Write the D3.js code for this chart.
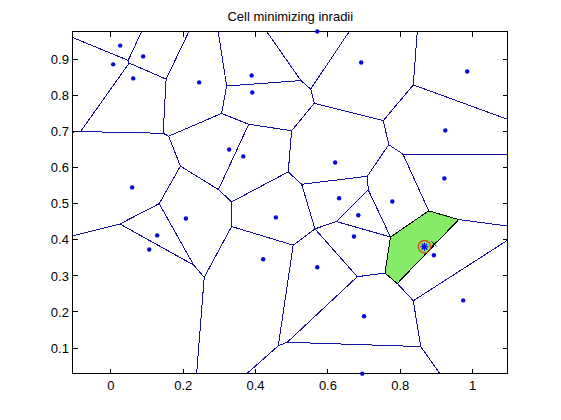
<!DOCTYPE html>
<html>
<head>
<meta charset="utf-8">
<script src="https://cdn.jsdelivr.net/npm/d3@7"></script>
<style>
  body { margin: 0; background: #fff; }
  text { font-family: Arial, "Liberation Sans", sans-serif; font-size: 13px; fill: #000; }
</style>
</head>
<body>
<svg id="chart" width="561" height="420"></svg>
<script>
// axis limits and ticks
const xLim = [-0.105, 1.097];
const yLim = [0.0286, 0.977];
const xTicks = [0, 0.2, 0.4, 0.6, 0.8, 1];
const yTicks = [0.1, 0.2, 0.3, 0.4, 0.5, 0.6, 0.7, 0.8, 0.9];

// generator points
const siteX = [0.0257, 0.0064, 0.0893, 0.0617, 0.244, 0.389, 0.391, 0.327, 0.366, 0.0589,
  0.5705, 0.692, 0.985, 0.9245, 0.620, 0.922, 0.631, 0.778, 0.684, 0.672,
  0.2074, 0.128, 0.106, 0.456, 0.421, 0.5705, 0.8667, 0.893, 0.974, 0.700, 0.695];
const siteY = [0.938, 0.886, 0.908, 0.847, 0.836, 0.855, 0.808, 0.650, 0.631, 0.545,
  0.977, 0.891, 0.866, 0.703, 0.614, 0.570, 0.515, 0.506, 0.468, 0.409,
  0.459, 0.412, 0.373, 0.462, 0.346, 0.324, 0.3807, 0.357, 0.232, 0.188, 0.029];

// voronoi vertices, frame crossings use the axis limits
const vertices = {
  A: [-0.105, 0.960], V1: [0.0478, 0.897], V2: [0.0506, 0.8896], C: [0.0849, 0.977],
  E: [0.1527, 0.845], Etop: [0.2157, 0.977], G: [-0.0838, 0.6998], Gleft: [-0.105, 0.6984],
  F: [0.1446, 0.695], H: [0.1596, 0.687], I: [0.3061, 0.750], K: [0.320, 0.826],
  Ktop: [0.2967, 0.977], L: [0.3811, 0.720], N: [0.4997, 0.702], J: [0.1922, 0.604],
  M: [0.2973, 0.539], P: [0.3338, 0.505], O: [0.4903, 0.588], Q: [0.1336, 0.500],
  W: [0.0249, 0.4436], Wleft: [-0.105, 0.411], R: [0.2287, 0.330], U: [0.258, 0.296],
  Ubot: [0.237, 0.0286], S: [0.3338, 0.4366], T: [0.504, 0.385], X: [0.4627, 0.106],
  Xbot: [0.3753, 0.0286], AI: [0.4876, 0.116], AH: [0.6811, 0.2976], AK: [0.8565, 0.104],
  AKbot: [0.9098, 0.0286], AA: [0.5642, 0.430], Y: [0.5274, 0.5536], Z: [0.7088, 0.576],
  AE: [0.7116, 0.538], AD: [0.623, 0.4505], AC: [0.773, 0.4076], GT: [0.8786, 0.480],
  GR: [0.9616, 0.456], GRright: [1.097, 0.438], GB: [0.7918, 0.2787], GBL: [0.7577, 0.3078],
  AJ: [0.836, 0.231], AJright: [1.097, 0.399], AB: [0.7683, 0.6635], AF: [0.8075, 0.637],
  AFright: [1.097, 0.635], BE: [0.753, 0.730], BF: [0.836, 0.829], BFtop: [0.847, 0.977],
  BFright: [1.097, 0.7336], BC: [0.5622, 0.778], BB: [0.5523, 0.8175], BBtop: [0.659, 0.977],
  BA: [0.5254, 0.841], BAtop: [0.4306, 0.977]
};

const edges = [
  'A-V1', 'C-V1', 'V1-V2', 'V2-E', 'V2-G', 'G-Gleft', 'G-F', 'E-Etop', 'E-F', 'F-H',
  'H-I', 'H-J', 'I-K', 'I-L', 'K-Ktop', 'K-BA', 'L-N', 'L-M', 'J-M', 'J-Q',
  'M-P', 'P-O', 'P-S', 'S-T', 'S-U', 'Q-W', 'Q-R', 'W-Wleft', 'W-R', 'R-U',
  'U-Ubot', 'T-AA', 'T-X', 'X-Xbot', 'X-AI', 'AI-AH', 'AI-AK', 'AA-Y', 'AA-AD', 'AA-AH',
  'Y-O', 'Y-Z', 'Z-AB', 'Z-AE', 'AE-AD', 'AE-AC', 'AD-AC', 'AB-BE', 'AB-AF', 'AF-AFright',
  'AF-GT', 'BE-BC', 'BE-BF', 'BC-BB', 'BC-N', 'BB-BA', 'BB-BBtop', 'BA-BAtop', 'BF-BFtop', 'BF-BFright',
  'N-O', 'GR-GRright', 'GB-AJ', 'GBL-AH', 'AJ-AJright', 'AJ-AK', 'AK-AKbot'
];

// the highlighted cell, its site and inscribed circle
const minCell = ['AC', 'GT', 'GR', 'GB', 'GBL'];
const minSite = [0.8667, 0.3807];
const inradius = 0.0172;
const crossMark = [0.8935, 0.3885];

const width = 561, height = 420;
const margin = { left: 72.9, top: 31.5, right: 561 - 507.7, bottom: 420 - 373.8 };
const plotW = width - margin.left - margin.right;
const plotH = height - margin.top - margin.bottom;

const svg = d3.select('#chart');

const x = d3.scaleLinear().domain(xLim).range([margin.left, margin.left + plotW]);
const y = d3.scaleLinear().domain(yLim).range([margin.top + plotH, margin.top]);

// title
svg.append('text')
  .attr('x', margin.left + plotW / 2)
  .attr('y', 20.5)
  .attr('text-anchor', 'middle')
  .text('Cell minimizing inradii');

svg.append('clipPath').attr('id', 'clip')
  .append('rect')
  .attr('x', margin.left).attr('y', margin.top)
  .attr('width', plotW).attr('height', plotH);

const plot = svg.append('g').attr('clip-path', 'url(#clip)');

// voronoi edges
plot.selectAll('.edge')
  .data(edges)
  .enter()
  .append('line')
  .attr('class', 'edge')
  .attr('x1', d => x(vertices[d.split('-')[0]][0]))
  .attr('y1', d => y(vertices[d.split('-')[0]][1]))
  .attr('x2', d => x(vertices[d.split('-')[1]][0]))
  .attr('y2', d => y(vertices[d.split('-')[1]][1]))
  .attr('stroke', '#10109c')
  .attr('stroke-width', 1)
  .attr('shape-rendering', 'crispEdges');

// cell with the smallest inradius
plot.append('path')
  .attr('d', d3.line().x(d => x(vertices[d][0])).y(d => y(vertices[d][1])).curve(d3.curveLinearClosed)(minCell))
  .attr('fill', '#86ec68')
  .attr('stroke', '#000')
  .attr('stroke-width', 1)
  .attr('shape-rendering', 'crispEdges');

// axes frame with inward ticks on all four sides
const tick = 5;
const axes = svg.append('g').attr('shape-rendering', 'crispEdges');
axes.append('rect')
  .attr('x', margin.left).attr('y', margin.top)
  .attr('width', plotW).attr('height', plotH)
  .attr('fill', 'none').attr('stroke', '#000').attr('stroke-width', 1);

xTicks.forEach(t => {
  axes.append('line').attr('x1', x(t)).attr('x2', x(t))
    .attr('y1', margin.top + plotH).attr('y2', margin.top + plotH - tick).attr('stroke', '#000');
  axes.append('line').attr('x1', x(t)).attr('x2', x(t))
    .attr('y1', margin.top).attr('y2', margin.top + tick).attr('stroke', '#000');
  axes.append('text')
    .attr('x', x(t)).attr('y', margin.top + plotH + 16)
    .attr('text-anchor', 'middle')
    .text(d3.format('~g')(t));
});

yTicks.forEach(t => {
  axes.append('line').attr('y1', y(t)).attr('y2', y(t))
    .attr('x1', margin.left).attr('x2', margin.left + tick).attr('stroke', '#000');
  axes.append('line').attr('y1', y(t)).attr('y2', y(t))
    .attr('x1', margin.left + plotW).attr('x2', margin.left + plotW - tick).attr('stroke', '#000');
  axes.append('text')
    .attr('x', margin.left - 4).attr('y', y(t))
    .attr('dy', '0.36em')
    .attr('text-anchor', 'end')
    .text(t.toFixed(1));
});

// generator points (not clipped, like matlab markers)
svg.selectAll('.site')
  .data(siteX.map((v, i) => [v, siteY[i]]))
  .enter()
  .append('circle')
  .attr('class', 'site')
  .attr('cx', d => x(d[0]))
  .attr('cy', d => y(d[1]))
  .attr('r', 2.2)
  .attr('fill', '#0808d8');

// inscribed circle of the chosen cell
const r = y(0) - y(inradius);
svg.append('circle')
  .attr('cx', x(minSite[0])).attr('cy', y(minSite[1]))
  .attr('r', r)
  .attr('fill', 'none')
  .attr('stroke', '#d8461c')
  .attr('stroke-width', 1.3);

// star marker at the site
const sx = x(minSite[0]), sy = y(minSite[1]), s = 4;
const star = svg.append('g').attr('stroke', '#0000ff').attr('stroke-width', 1.2);
star.append('line').attr('x1', sx - s).attr('x2', sx + s).attr('y1', sy).attr('y2', sy);
star.append('line').attr('x1', sx).attr('x2', sx).attr('y1', sy - s).attr('y2', sy + s);
star.append('line').attr('x1', sx - s * 0.7).attr('x2', sx + s * 0.7).attr('y1', sy - s * 0.7).attr('y2', sy + s * 0.7);
star.append('line').attr('x1', sx - s * 0.7).attr('x2', sx + s * 0.7).attr('y1', sy + s * 0.7).attr('y2', sy - s * 0.7);

// x marker
const cx = x(crossMark[0]), cy = y(crossMark[1]), c = 2.5;
const cross = svg.append('g').attr('stroke', '#000').attr('stroke-width', 1);
cross.append('line').attr('x1', cx - c).attr('x2', cx + c).attr('y1', cy - c).attr('y2', cy + c);
cross.append('line').attr('x1', cx - c).attr('x2', cx + c).attr('y1', cy + c).attr('y2', cy - c);
</script>
</body>
</html>
